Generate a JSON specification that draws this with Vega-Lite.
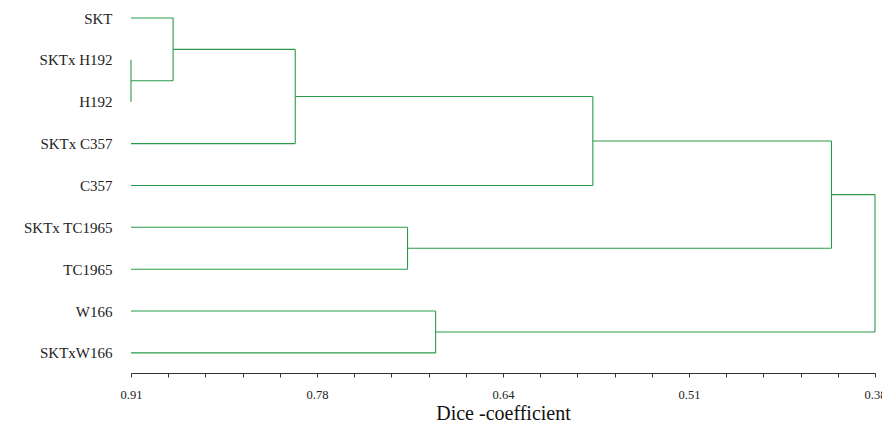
{
  "$schema": "https://vega.github.io/schema/vega-lite/v6.json",
  "autosize": "none",
  "width": 744,
  "height": 373,
  "padding": {"left": 131, "top": 0, "right": 7, "bottom": 54},
  "background": "white",
  "config": {"view": {"stroke": null}},
  "data": {
    "values": [
      {"x": 0.91, "x2": 0.880, "y": 0, "y2": 0},
      {"x": 0.91, "x2": 0.91, "y": 1, "y2": 2},
      {"x": 0.91, "x2": 0.880, "y": 1.5, "y2": 1.5},
      {"x": 0.880, "x2": 0.880, "y": 0, "y2": 1.5},
      {"x": 0.880, "x2": 0.793, "y": 0.75, "y2": 0.75},
      {"x": 0.91, "x2": 0.793, "y": 3, "y2": 3},
      {"x": 0.793, "x2": 0.793, "y": 0.75, "y2": 3},
      {"x": 0.793, "x2": 0.581, "y": 1.875, "y2": 1.875},
      {"x": 0.91, "x2": 0.581, "y": 4, "y2": 4},
      {"x": 0.581, "x2": 0.581, "y": 1.875, "y2": 4},
      {"x": 0.581, "x2": 0.411, "y": 2.9375, "y2": 2.9375},
      {"x": 0.91, "x2": 0.713, "y": 5, "y2": 5},
      {"x": 0.91, "x2": 0.713, "y": 6, "y2": 6},
      {"x": 0.713, "x2": 0.713, "y": 5, "y2": 6},
      {"x": 0.713, "x2": 0.411, "y": 5.5, "y2": 5.5},
      {"x": 0.411, "x2": 0.411, "y": 2.9375, "y2": 5.5},
      {"x": 0.411, "x2": 0.38, "y": 4.21875, "y2": 4.21875},
      {"x": 0.91, "x2": 0.693, "y": 7, "y2": 7},
      {"x": 0.91, "x2": 0.693, "y": 8, "y2": 8},
      {"x": 0.693, "x2": 0.693, "y": 7, "y2": 8},
      {"x": 0.693, "x2": 0.38, "y": 7.5, "y2": 7.5},
      {"x": 0.38, "x2": 0.38, "y": 4.21875, "y2": 7.5}
    ]
  },
  "mark": {"type": "rule", "color": "#2a9a4a", "strokeWidth": 1.1},
  "encoding": {
    "x": {
      "field": "x", "type": "quantitative",
      "scale": {"domain": [0.38, 0.91], "reverse": true, "zero": false, "nice": false},
      "axis": {
        "title": "Dice -coefficient",
        "titleFont": "Liberation Serif", "titleFontSize": 20, "titleFontWeight": "normal", "titleColor": "#111",
        "titlePadding": 3,
        "values": [0.91, 0.8835, 0.857, 0.8305, 0.804, 0.7775, 0.751, 0.7245, 0.698, 0.6715, 0.645, 0.6185, 0.592, 0.5655, 0.539, 0.5125, 0.486, 0.4595, 0.433, 0.4065, 0.38],
        "labelExpr": "abs(datum.value-0.91)<0.001 ? '0.91' : abs(datum.value-0.7775)<0.001 ? '0.78' : abs(datum.value-0.645)<0.001 ? '0.64' : abs(datum.value-0.5125)<0.001 ? '0.51' : abs(datum.value-0.38)<0.001 ? '0.38' : ''",
        "labelFont": "Liberation Serif", "labelFontSize": 12.5, "labelColor": "#222",
        "labelPadding": 11, "labelOverlap": false, "labelFlush": false,
        "domainColor": "#333", "tickColor": "#333", "tickSize": 4, "grid": false
      }
    },
    "x2": {"field": "x2"},
    "y": {
      "field": "y", "type": "quantitative",
      "scale": {"domain": [-0.43, 8.48], "reverse": true, "zero": false, "nice": false},
      "axis": {
        "title": null,
        "values": [0, 1, 2, 3, 4, 5, 6, 7, 8],
        "labelExpr": "['SKT','SKTx H192','H192','SKTx C357','C357','SKTx TC1965','TC1965','W166','SKTxW166'][datum.value]",
        "labelFont": "Liberation Serif", "labelFontSize": 15, "labelColor": "#222",
        "labelPadding": 19, "domain": false, "ticks": false, "grid": false
      }
    },
    "y2": {"field": "y2"}
  }
}
